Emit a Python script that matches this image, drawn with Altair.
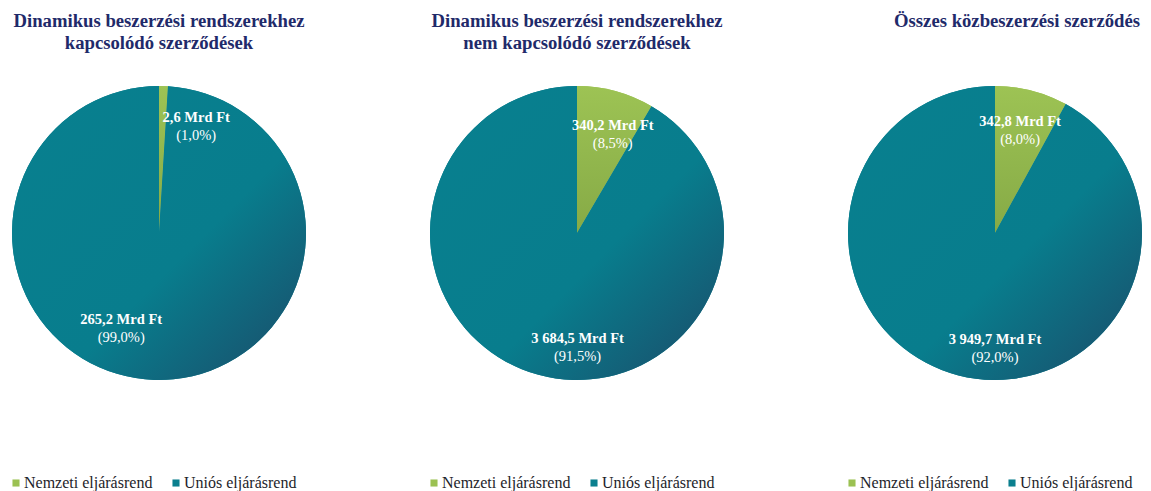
import math
import altair as alt
import pandas as pd

# ---------------- data ----------------
titles = [
    ["Dinamikus beszerzési rendszerekhez", "kapcsolódó  szerződések"],
    ["Dinamikus beszerzési rendszerekhez", "nem kapcsolódó szerződések"],
    ["Összes közbeszerzési szerződés", " "],
]
categories = ["Nemzeti eljárásrend", "Uniós eljárásrend"]
nemzeti_mrd = [2.6, 340.2, 342.8]
unios_mrd = [265.2, 3684.5, 3949.7]
nemzeti_pct = [1.0, 8.5, 8.0]
unios_pct = [99.0, 91.5, 92.0]


def hu(v, d=1):
    s = f"{v:,.{d}f}"
    return s.replace(",", " ").replace(".", ",")


rows = []
for i in range(3):
    for k, (cat, vals, pcts) in enumerate(
        [(categories[0], nemzeti_mrd, nemzeti_pct), (categories[1], unios_mrd, unios_pct)]
    ):
        rows.append(
            dict(
                pie=i,
                cat=cat,
                order=k,
                value=vals[i],
                val_label=f"{hu(vals[i])} Mrd Ft",
                pct_label=f"({hu(pcts[i])}%)",
            )
        )
df = pd.DataFrame(rows)

# ---------------- style ----------------
SERIF = "Liberation Serif"
GREEN = "#9bc152"
TEAL = "#0a7f8e"
TITLE_COLOR = "#1f2a6a"
R = 147
W, H = 294, 300

teal_grad = {
    "gradient": "linear",
    "x1": 0, "y1": 0, "x2": 1, "y2": 1,
    "stops": [
        {"offset": 0, "color": "#08808f"},
        {"offset": 0.58, "color": "#087d8d"},
        {"offset": 1, "color": "#1c4a68"},
    ],
}
green_grad = {
    "gradient": "linear",
    "x1": 0, "y1": 0, "x2": 0, "y2": 1,
    "stops": [
        {"offset": 0, "color": "#9dc354"},
        {"offset": 1, "color": "#86aa46"},
    ],
}

th_scale = alt.Scale(domain=[0, 1], range=[0, 2 * math.pi])


def panel(i, title_lines, title_dx, nudges):
    base = (
        alt.Chart(df)
        .transform_filter(alt.datum.pie == i)
        .transform_stack(
            as_=["v0", "v1"],
            stack="value",
            groupby=["pie"],
            offset="normalize",
            sort=[alt.SortField("order", order="ascending")],
        )
        .transform_calculate(mid="(datum.v0 + datum.v1) / 2")
    )
    solid = base.mark_arc(radius=R).encode(
        theta=alt.Theta("v0:Q", scale=th_scale, stack=None),
        theta2="v1:Q",
        color=alt.Color(
            "cat:N",
            scale=alt.Scale(domain=categories, range=[GREEN, TEAL]),
            legend=alt.Legend(
                orient="none",
                legendX=-4,
                legendY=392,
                direction="horizontal",
                title=None,
                symbolType="square",
                symbolSize=50,
                symbolStrokeWidth=0,
                labelFont=SERIF,
                labelFontSize=16,
                labelColor="#1e1e2a",
                labelOffset=0,
                columnPadding=15,
            ),
        ),
    )
    grad = base.mark_arc(radius=R).encode(
        theta=alt.Theta("v0:Q", scale=th_scale, stack=None),
        theta2="v1:Q",
        color=alt.condition(
            alt.datum.cat == categories[1], alt.value(teal_grad), alt.value(green_grad)
        ),
    )
    layers = [solid, grad]
    for k, cat in enumerate(categories):
        r, dx, dy = nudges[k]
        sub = base.transform_filter(alt.datum.cat == cat)
        layers.append(
            sub.mark_text(
                radius=r, dx=dx, dy=dy - 9, font=SERIF, fontWeight="bold",
                fontSize=14.5, color="white",
            ).encode(theta=alt.Theta("mid:Q", scale=th_scale, stack=None), text="val_label:N")
        )
        layers.append(
            sub.mark_text(
                radius=r, dx=dx, dy=dy + 9, font=SERIF,
                fontSize=14.5, color="white",
            ).encode(theta=alt.Theta("mid:Q", scale=th_scale, stack=None), text="pct_label:N")
        )
    return alt.layer(*layers).properties(
        width=W,
        height=H,
        title=alt.TitleParams(
            text=title_lines,
            font=SERIF,
            fontSize=18.7,
            fontWeight="bold",
            color=TITLE_COLOR,
            anchor="middle",
            dx=title_dx,
            offset=30,
            lineHeight=22,
        ),
    )


p1 = panel(0, titles[0], 0, [(106, 34, 0), (92, -35, 4)])
p2 = panel(1, titles[1], 0, [(102, 9, 0), (112, 30, 7)])
p3 = panel(2, titles[2], 22, [(105, -1, 0), (113, 28, 7)])

chart = (
    alt.hconcat(p1, p2, p3, spacing=124, bounds="flush")
    .resolve_scale(color="independent")
    .resolve_legend(color="independent")
    .properties(padding={"left": 0, "top": 4, "right": 0, "bottom": 0})
    .configure_view(stroke=None)
)

chart.save("out.html", embed_options={"renderer": "svg", "actions": False})
